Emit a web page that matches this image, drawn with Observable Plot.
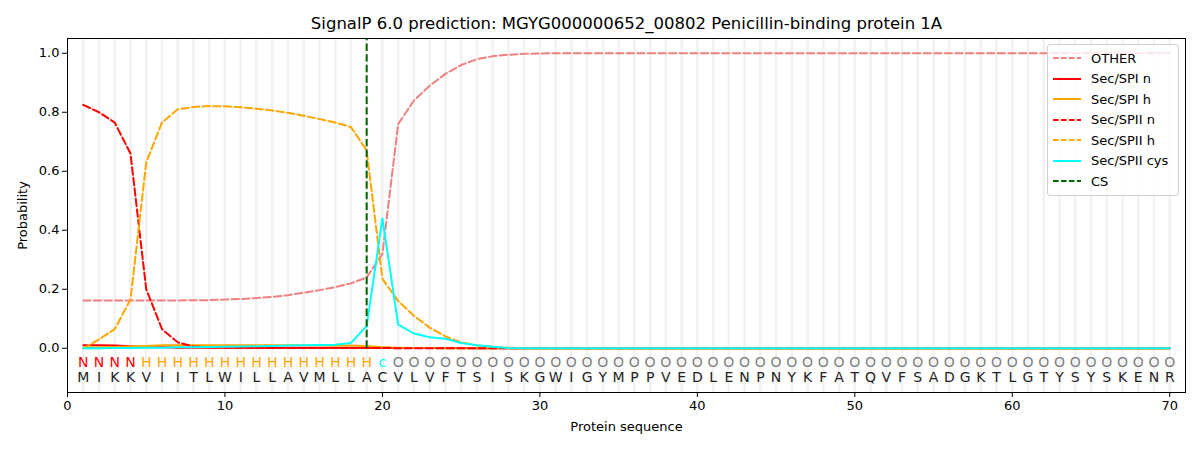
<!DOCTYPE html>
<html>
<head>
<meta charset="utf-8">
<script src="https://cdn.jsdelivr.net/npm/d3@7"></script>
<script src="https://cdn.jsdelivr.net/npm/@observablehq/plot@0.6"></script>
<style>
  html, body { margin: 0; padding: 0; background: #fff; }
  #wrap { position: relative; width: 1200px; height: 450px; font-family: "DejaVu Sans", sans-serif; }
  #legend { position: absolute; left: 1047px; top: 44px; width: 130px; background: rgba(255,255,255,0.8);
    border: 1px solid #d0d0d0; border-radius: 3px; padding: 3px 0 3px 0; font-size: 13px; color: #000; }
  .item { display: flex; align-items: center; height: 20.5px; }
  .item svg { margin-left: 5px; margin-right: 10px; }
</style>
</head>
<body>
<div id="wrap"><div id="legend"></div></div>
<script>
const title = "SignalP 6.0 prediction: MGYG000000652_00802 Penicillin-binding protein 1A";
const sequence = "MIKKVIITLWILLAVMLLACVLVFTSISKGWIGYMPPVEDLENPNYKFATQVFSADGKTLGTYSYSKENR".split("");
const regionLabels = "NNNNHHHHHHHHHHHHHHHcOOOOOOOOOOOOOOOOOOOOOOOOOOOOOOOOOOOOOOOOOOOOOOOOOO".split("");
const csPosition = 19;

const other = [0.162,0.162,0.162,0.162,0.162,0.162,0.162,0.163,0.163,0.165,0.167,0.170,0.174,0.180,0.188,0.197,0.207,0.220,0.240,0.320,
  0.760,0.840,0.890,0.930,0.960,0.980,0.990,0.995,0.998,0.999];
const secSpiN = [0.010,0.010,0.009,0.007,0.004,0.003,0.002,0.002,0.002,0.002,0.002,0.002,0.002,0.002,0.002,0.002,0.002,0.002,0.002,0.002,
  0.001,0.001,0.001,0.001,0.001];
const secSpiH = [0.002,0.003,0.004,0.006,0.008,0.010,0.010,0.010,0.010,0.010,0.010,0.010,0.010,0.010,0.010,0.010,0.009,0.009,0.008,0.003,
  0.002,0.001,0.001];
const secSpiiN = [0.825,0.800,0.765,0.660,0.200,0.065,0.020,0.006,0.003,0.002,0.002,0.001,0.001,0.001,0.001,0.001,0.001,0.001,0.001,0.001];
const secSpiiH = [0.000,0.030,0.065,0.165,0.630,0.765,0.810,0.818,0.821,0.820,0.817,0.812,0.806,0.798,0.788,0.777,0.765,0.750,0.670,0.235,
  0.160,0.110,0.070,0.040,0.020,0.010,0.005,0.002];
const secSpiiCys = [0.000,0.000,0.001,0.001,0.002,0.002,0.003,0.003,0.004,0.005,0.006,0.007,0.008,0.009,0.010,0.011,0.012,0.018,0.075,0.440,
  0.080,0.050,0.037,0.032,0.018,0.010,0.005,0.001];

const N = sequence.length;
function full(arr, fill) { return d3.range(N).map(i => ({pos: i + 1, p: i < arr.length ? arr[i] : fill})); }

const series = [
  {name: "OTHER", data: full(other, 1.0), stroke: "#F08080", dash: "7.4,3.2"},
  {name: "Sec/SPI n", data: full(secSpiN, 0), stroke: "red", dash: null},
  {name: "Sec/SPI h", data: full(secSpiH, 0), stroke: "orange", dash: null},
  {name: "Sec/SPII n", data: full(secSpiiN, 0), stroke: "red", dash: "7.4,3.2"},
  {name: "Sec/SPII h", data: full(secSpiiH, 0), stroke: "orange", dash: "7.4,3.2"},
  {name: "Sec/SPII cys", data: full(secSpiiCys, 0), stroke: "cyan", dash: null}
];

const labelColor = {N: "red", H: "orange", c: "cyan", O: "gray"};
const positions = d3.range(1, N + 1);
const labelRows = positions.map(i => ({pos: i, region: regionLabels[i - 1], aa: sequence[i - 1]}));

const lineMarks = series.map(s => Plot.line(s.data, {x: "pos", y: "p", stroke: s.stroke, strokeWidth: 2, strokeDasharray: s.dash || undefined}));

const chart = Plot.plot({
  width: 1200, height: 450,
  marginLeft: 67, marginRight: 15, marginTop: 38, marginBottom: 58,
  style: {fontFamily: "DejaVu Sans, sans-serif", fontSize: "13px", color: "#000", background: "#fff"},
  x: {domain: [0, 71]},
  y: {domain: [-0.15, 1.05]},
  color: {type: "identity"},
  marks: [
    Plot.ruleX(positions, {x: d => d, stroke: "#f2f2f2", strokeWidth: 2.5}),
    ...lineMarks,
    Plot.ruleX([csPosition], {x: d => d, y1: 0, y2: 1.05, stroke: "darkgreen", strokeWidth: 2, strokeDasharray: "7.4,3.2"}),
    Plot.text(labelRows, {x: "pos", y: -0.05, text: "region", fill: d => labelColor[d.region], fontSize: 14}),
    Plot.text(labelRows, {x: "pos", y: -0.1, text: "aa", fill: "#222", fontSize: 14}),
    Plot.frame({stroke: "#000", strokeWidth: 1}),
    Plot.axisX({ticks: d3.range(0, 71, 10), tickSize: 5, tickPadding: 3, tickFormat: d3.format("d"), fontSize: 13,
      label: "Protein sequence", labelAnchor: "center", labelArrow: "none", labelOffset: 38}),
    Plot.axisY({ticks: d3.range(0, 1.01, 0.2), tickSize: 5, tickPadding: 3, tickFormat: d3.format(".1f"), fontSize: 13,
      label: "Probability", labelAnchor: "center", labelArrow: "none", labelOffset: 50}),
    Plot.text([title], {frameAnchor: "top", lineAnchor: "middle", dy: -15, fontSize: 16.5, fill: "#000"})
  ]
});
document.getElementById("wrap").prepend(chart);

const legendItems = [...series.map(s => ({name: s.name, stroke: s.stroke, dash: s.dash})), {name: "CS", stroke: "darkgreen", dash: "7.4,3.2"}];
const legend = document.getElementById("legend");
for (const it of legendItems) {
  const row = document.createElement("div");
  row.className = "item";
  row.innerHTML = `<svg width="28" height="10"><line x1="0" x2="28" y1="5" y2="5" stroke="${it.stroke}" stroke-width="2" ${it.dash ? `stroke-dasharray="${it.dash.split(",").map(v => +v * 0.75).join(",")}"` : ""}/></svg><span>${it.name}</span>`;
  legend.appendChild(row);
}
</script>
</body>
</html>
